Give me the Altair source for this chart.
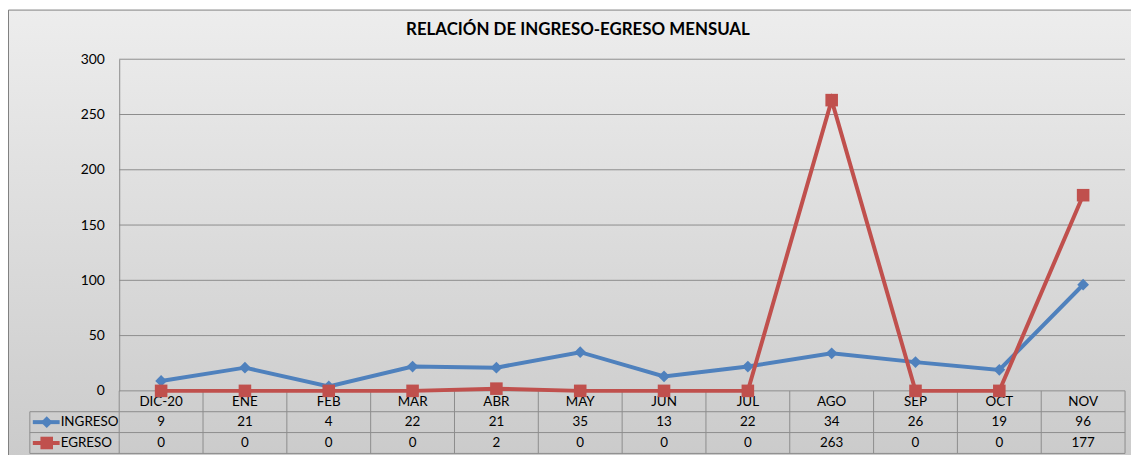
import altair as alt
import pandas as pd

categories = ["DIC-20", "ENE", "FEB", "MAR", "ABR", "MAY", "JUN", "JUL", "AGO", "SEP", "OCT", "NOV"]
ingreso = [9, 21, 4, 22, 21, 35, 13, 22, 34, 26, 19, 96]
egreso = [0, 0, 0, 0, 2, 0, 0, 0, 263, 0, 0, 177]
series_names = ["INGRESO", "EGRESO"]
series_colors = ["#4f81bd", "#c0504d"]
y_ticks = [0, 50, 100, 150, 200, 250, 300]
title_text = "RELACIÓN DE INGRESO-EGRESO MENSUAL"

W, H = 1013, 334
ROW = 21
FONT = "Lato"
GRID = "#8c8c8c"

df_ing = pd.DataFrame({"cat": categories, "value": ingreso, "serie": "INGRESO"})
df_egr = pd.DataFrame({"cat": categories, "value": egreso, "serie": "EGRESO"})
df_cats = pd.DataFrame({"cat": categories})
df_last = pd.DataFrame({"cat": [categories[-1]]})
df_ticks = pd.DataFrame({"value": y_ticks})
one = pd.DataFrame({"k": [1]})

xscale = alt.Scale(domain=categories, paddingInner=0, paddingOuter=0)
yscale = alt.Scale(domain=[0, 300], nice=False)
yax = alt.Axis(
    values=y_ticks, title=None, grid=False, zindex=1,
    domain=True, domainColor=GRID, domainWidth=1, ticks=False, labelPadding=15,
    labelFont=FONT, labelFontSize=14, labelColor="#000000")
X = lambda **kw: alt.X("cat:N", scale=xscale, axis=None, sort=categories, **kw)
Y = lambda: alt.Y("value:Q", scale=yscale, axis=yax)

bg = alt.Chart(one).mark_rect(
    fill=alt.LinearGradient(
        gradient="linear",
        stops=[alt.GradientStop(color="#ededed", offset=0),
               alt.GradientStop(color="#c9c9c9", offset=1)],
        x1=0, x2=0, y1=0, y2=1),
    stroke="#7f7f7f", strokeWidth=1,
).encode(x=alt.value(-111.5), x2=alt.value(W + 30), y=alt.value(-49.5), y2=alt.value(H + 3 * ROW + 30))

title = alt.Chart(one).mark_text(
    text=title_text, font=FONT, fontSize=17, fontWeight="bold", color="#000000",
    align="center", baseline="middle",
).encode(x=alt.value(462), y=alt.value(-29))

# horizontal gridlines at the y ticks
grid = alt.Chart(df_ticks).mark_rule(color=GRID, strokeWidth=1).encode(
    x=alt.value(0), x2=alt.value(W), y=Y())

# table lines
def hline(r):
    return alt.Chart(one).mark_rule(color=GRID, strokeWidth=1).encode(
        x=alt.value(-90), x2=alt.value(W), y=alt.value(H + r * ROW))

vlines = alt.Chart(df_cats).mark_rule(color=GRID, strokeWidth=1).encode(
    x=X(bandPosition=0), y=alt.value(H), y2=alt.value(H + 3 * ROW))
vlast = alt.Chart(df_last).mark_rule(color=GRID, strokeWidth=1).encode(
    x=X(bandPosition=1), y=alt.value(H), y2=alt.value(H + 3 * ROW))
vleft = alt.Chart(one).mark_rule(color=GRID, strokeWidth=1).encode(
    x=alt.value(-90), y=alt.value(H + ROW), y2=alt.value(H + 3 * ROW))

txt_kw = dict(font=FONT, fontSize=13.5, color="#000000", align="center", baseline="middle")
cat_text = alt.Chart(df_cats).mark_text(**txt_kw).encode(
    x=X(), y=alt.value(H + ROW / 2 + 1), text="cat:N")
ing_text = alt.Chart(df_ing).mark_text(**txt_kw).encode(
    x=X(), y=alt.value(H + ROW * 1.5), text="value:Q")
egr_text = alt.Chart(df_egr).mark_text(**txt_kw).encode(
    x=X(), y=alt.value(H + ROW * 2.5), text="value:Q")

# legend keys in table
def key(i, shape, size):
    yc = H + ROW * (1.5 + i)
    ln = alt.Chart(one).mark_rule(color=series_colors[i], strokeWidth=4).encode(
        x=alt.value(-87), x2=alt.value(-60), y=alt.value(yc))
    pt = alt.Chart(one).mark_point(shape=shape, filled=True, opacity=1, color=series_colors[i], size=size).encode(
        x=alt.value(-73), y=alt.value(yc))
    tx = alt.Chart(one).mark_text(text=series_names[i], font=FONT, fontSize=13.5, color="#000000",
                                  align="left", baseline="middle").encode(x=alt.value(-59), y=alt.value(yc))
    return ln + pt + tx

# series
def series(df, i, shape, size):
    ln = alt.Chart(df).mark_line(color=series_colors[i], strokeWidth=4).encode(x=X(), y=Y())
    pt = alt.Chart(df).mark_point(shape=shape, filled=True, opacity=1, color=series_colors[i],
                                  size=size).encode(x=X(), y=Y())
    return ln + pt

chart = alt.layer(
    bg, title, grid, hline(1), hline(2), hline(3), vlines, vlast, vleft,
    cat_text, ing_text, egr_text,
    key(0, "diamond", 140), key(1, "square", 160),
    series(df_ing, 0, "diamond", 140), series(df_egr, 1, "square", 160),
).properties(
    width=W, height=H,
    padding={"left": 112, "top": 50, "right": 6, "bottom": 3 * ROW},
    autosize="none",
).configure_view(stroke=None).configure(background="#ffffff")

chart.save("out.html", embed_options={"renderer": "svg", "actions": False})
